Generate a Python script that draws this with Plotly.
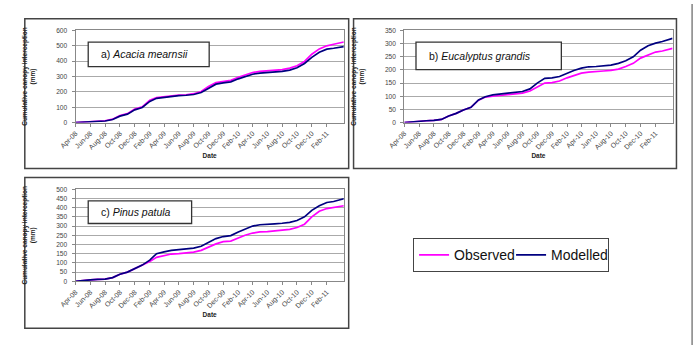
import plotly.graph_objects as go

W, H = 695, 348

dates = ["2008-04-01", "2008-05-01", "2008-06-01", "2008-07-01", "2008-08-01", "2008-09-01",
         "2008-10-01", "2008-11-01", "2008-12-01", "2009-01-01", "2009-02-01", "2009-03-01",
         "2009-04-01", "2009-05-01", "2009-06-01", "2009-07-01", "2009-08-01", "2009-09-01",
         "2009-10-01", "2009-11-01", "2009-12-01", "2010-01-01", "2010-02-01", "2010-03-01",
         "2010-04-01", "2010-05-01", "2010-06-01", "2010-07-01", "2010-08-01", "2010-09-01",
         "2010-10-01", "2010-11-01", "2010-12-01", "2011-01-01", "2011-02-01", "2011-03-01",
         "2011-04-12"]

tick_dates = ["2008-04-01", "2008-06-01", "2008-08-01", "2008-10-01", "2008-12-01",
              "2009-02-01", "2009-04-01", "2009-06-01", "2009-08-01", "2009-10-01",
              "2009-12-01", "2010-02-01", "2010-04-01", "2010-06-01", "2010-08-01",
              "2010-10-01", "2010-12-01", "2011-02-01"]
tick_labels = ["Apr-08", "Jun-08", "Aug-08", "Oct-08", "Dec-08", "Feb-09", "Apr-09", "Jun-09",
               "Aug-09", "Oct-09", "Dec-09", "Feb-10", "Apr-10", "Jun-10", "Aug-10", "Oct-10",
               "Dec-10", "Feb-11"]

a_observed = [0, 3, 8, 10, 12, 22, 46, 58, 88, 102, 145, 163, 170, 176, 179, 181, 188, 202,
              235, 260, 268, 275, 295, 310, 326, 334, 338, 342, 345, 355, 370, 398, 445, 480,
              500, 510, 525]
a_modelled = [0, 3, 7, 9, 10, 20, 42, 55, 83, 98, 138, 158, 165, 172, 176, 178, 183, 196,
              225, 250, 258, 265, 285, 300, 315, 322, 326, 330, 333, 342, 357, 385, 425, 458,
              478, 484, 495]
b_observed = [0, 3, 5, 7, 8, 12, 25, 35, 48, 58, 85, 97, 100, 103, 105, 107, 112, 120,
              135, 150, 152, 158, 170, 178, 188, 192, 193, 196, 198, 203, 213, 225, 245, 258,
              268, 272, 282]
b_modelled = [0, 3, 5, 7, 8, 12, 25, 35, 48, 58, 86, 98, 105, 108, 110, 112, 118, 128,
              150, 168, 170, 175, 188, 198, 207, 212, 213, 215, 218, 225, 235, 250, 275, 292,
              302, 308, 320]
c_observed = [0, 5, 8, 10, 12, 20, 38, 50, 68, 85, 108, 130, 140, 148, 150, 152, 158, 168,
              185, 203, 215, 218, 235, 250, 262, 268, 270, 273, 276, 282, 292, 310, 350, 380,
              395, 402, 410]
c_modelled = [0, 5, 8, 10, 12, 20, 38, 50, 70, 88, 115, 150, 160, 168, 172, 175, 180, 190,
              210, 232, 243, 248, 268, 283, 300, 307, 308, 312, 315, 320, 330, 350, 385, 410,
              428, 433, 448]

panel_labels = ["a) <i>Acacia mearnsii</i>", "b) <i>Eucalyptus grandis</i>", "c) <i>Pinus patula</i>"]
y_maxes = [600, 350, 500]
y_dticks = [100, 50, 50]
series_names = ["Observed", "Modelled"]
obs_color = "#FF00FF"
mod_color = "#000080"

def px(x):
    return x / W

def py(y):
    return 1 - y / H

fig = go.Figure()

panels = [
    ("x", "y", a_observed, a_modelled),
    ("x2", "y2", b_observed, b_modelled),
    ("x3", "y3", c_observed, c_modelled),
]
for i, (xa, ya, obs, mod) in enumerate(panels):
    fig.add_trace(go.Scatter(x=dates, y=obs, mode="lines", name=series_names[0],
                             line=dict(color=obs_color, width=1.7), xaxis=xa, yaxis=ya,
                             showlegend=(i == 0), legendrank=1))
    fig.add_trace(go.Scatter(x=dates, y=mod, mode="lines", name=series_names[1],
                             line=dict(color=mod_color, width=1.7), xaxis=xa, yaxis=ya,
                             showlegend=(i == 0), legendrank=2))

xtickfont = dict(family="Liberation Sans, Arial", size=7, color="#444")
ytickfont = dict(family="Liberation Sans, Arial", size=6.6, color="#444")
titlefont = dict(family="Liberation Sans, Arial", size=6.5, color="#222")

# plot-area pixel boxes: (x0, x1, ytop, ybottom)
areas = [(60, 335, 27, 121), (397, 672, 27, 121), (60, 335, 189, 283)]
axis_keys = [("xaxis", "yaxis"), ("xaxis2", "yaxis2"), ("xaxis3", "yaxis3")]
for i, ((x0, x1, yt, yb), (xk, yk)) in enumerate(zip(areas, axis_keys)):
    anchor_y = "y" if i == 0 else f"y{i+1}"
    anchor_x = "x" if i == 0 else f"x{i+1}"
    fig.layout[xk] = dict(
        domain=[px(x0), px(x1)], anchor=anchor_y, type="date",
        range=["2008-04-01", "2011-04-12"], tickmode="array",
        tickvals=tick_dates, ticktext=tick_labels, tickangle=-45, tickfont=xtickfont,
        ticks="outside", ticklen=3, tickcolor="#888",
        showline=True, linecolor="#888", linewidth=1, mirror=True,
        showgrid=False, zeroline=False,
        title=dict(text="<b>Date</b>", font=titlefont, standoff=3),
    )
    fig.layout[yk] = dict(
        domain=[py(yb), py(yt)], anchor=anchor_x,
        range=[0, y_maxes[i]], dtick=y_dticks[i], tickfont=ytickfont,
        ticks="outside", ticklen=3, tickcolor="#888", ticklabelstandoff=3,
        showline=True, linecolor="#888", linewidth=1, mirror=True,
        showgrid=True, gridcolor="#aaa", gridwidth=1, zeroline=False,
        title=dict(text="<b>Cumulative canopy interception<br>(mm)</b>", font=titlefont, standoff=19),
    )

shapes = []
# panel frames
for (x0, x1, y0, y1) in [(8, 340, 15, 168), (345, 676, 15, 168), (8, 340, 177, 331)]:
    shapes.append(dict(type="rect", xref="paper", yref="paper",
                       x0=px(x0), x1=px(x1), y0=py(y1), y1=py(y0),
                       line=dict(color="#444", width=1.5)))
# page right border
shapes.append(dict(type="line", xref="paper", yref="paper", x0=px(692), x1=px(692),
                   y0=0, y1=1, line=dict(color="#444", width=1)))
# label boxes
label_boxes = [(73, 197, 39, 64), (409, 558, 39, 67), (73, 179, 201, 224)]
annotations = []
for (x0, x1, y0, y1), txt in zip(label_boxes, panel_labels):
    shapes.append(dict(type="rect", xref="paper", yref="paper",
                       x0=px(x0), x1=px(x1), y0=py(y1), y1=py(y0),
                       fillcolor="white", line=dict(color="#333", width=1.3)))
    annotations.append(dict(xref="paper", yref="paper", x=px(x0 + 11), y=py((y0 + y1) / 2),
                            xanchor="left", yanchor="middle", showarrow=False, text=txt,
                            font=dict(family="Liberation Sans, Arial", size=10.5, color="#111")))

fig.update_layout(
    width=W, height=H, margin=dict(l=0, r=0, t=0, b=0),
    paper_bgcolor="white", plot_bgcolor="white",
    shapes=shapes, annotations=annotations,
    legend=dict(orientation="h", x=px(406), y=py(239), xanchor="left", yanchor="top",
                bordercolor="#444", borderwidth=1, bgcolor="white",
                font=dict(family="Liberation Sans, Arial", size=14, color="#111"),
                itemwidth=30, tracegroupgap=0, entrywidth=52, entrywidthmode="pixels"),
)

fig.write_html("out.html")
